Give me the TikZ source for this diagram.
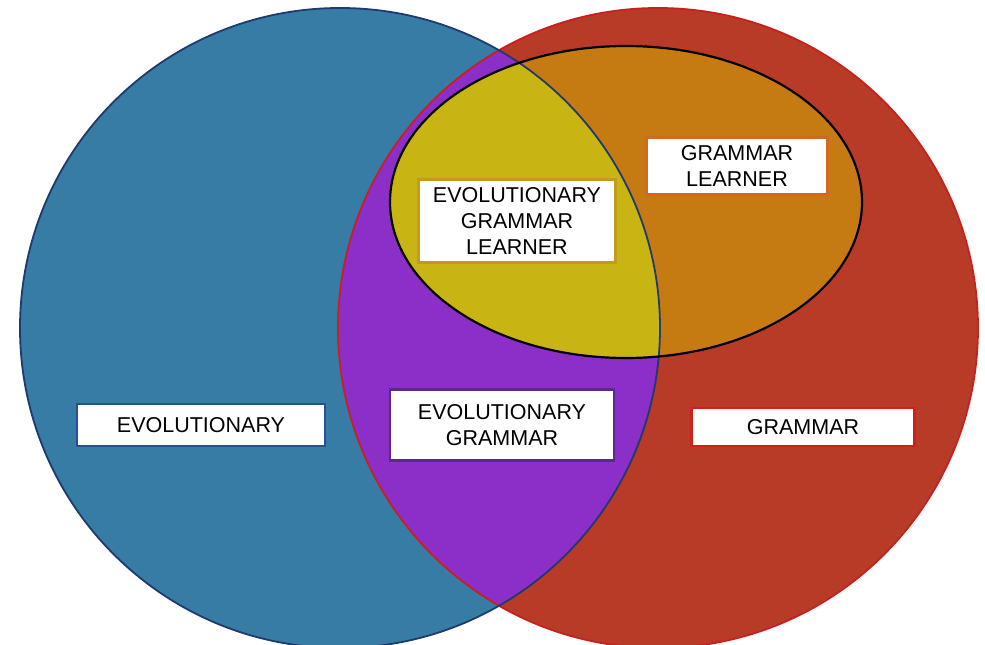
\documentclass[tikz,border=0pt]{standalone}
\usepackage{fontspec}
\setmainfont{Liberation Sans}
\definecolor{cblue}{HTML}{367CA4}
\definecolor{cred}{HTML}{B83B27}
\definecolor{cpurple}{HTML}{8C2FC8}
\definecolor{cyellow}{HTML}{C8B514}
\definecolor{corange}{HTML}{C67B12}
\definecolor{bnavy}{HTML}{1F3A6E}
\definecolor{bred}{HTML}{C8201E}
\definecolor{lblue}{HTML}{2A4E9A}
\definecolor{lpurple}{HTML}{5A2A8A}
\definecolor{lred}{HTML}{D0201A}
\definecolor{lorange}{HTML}{D06A20}
\definecolor{lgold}{HTML}{C49A1A}
\begin{document}
\begin{tikzpicture}[x=1pt,y=-1pt,
  label box/.style={draw, fill=white, line width=2.5pt, inner sep=0pt, align=center,
    font=\fontsize{21.5pt}{26pt}\selectfont, text=black}]
\useasboundingbox (0,0) rectangle (985,645);
\fill[white] (0,0) rectangle (985,645);
% base circles
\fill[cblue] (340,328) ellipse [x radius=320pt, y radius=320pt];
\fill[cred] (658,328) ellipse [x radius=320pt, y radius=320pt];
% intersection
\begin{scope}
  \clip (340,328) ellipse [x radius=320pt, y radius=320pt];
  \fill[cpurple] (658,328) ellipse [x radius=320pt, y radius=320pt];
\end{scope}
% learner ellipse
\fill[corange] (626,202) ellipse [x radius=236pt, y radius=156pt];
\begin{scope}
  \clip (340,328) ellipse [x radius=320pt, y radius=320pt];
  \fill[cyellow] (626,202) ellipse [x radius=236pt, y radius=156pt];
\end{scope}
% outlines
\draw[bred, line width=1.8pt] (658,328) ellipse [x radius=320pt, y radius=320pt];
\draw[bnavy, line width=1.8pt] (340,328) ellipse [x radius=320pt, y radius=320pt];
\draw[black, line width=2.2pt] (626,202) ellipse [x radius=236pt, y radius=156pt];
% labels
\node[label box, draw=lblue, minimum width=248pt, minimum height=42pt] (evo) at (201,425) {EVOLUTIONARY};
\node[label box, draw=lpurple, minimum width=224pt, minimum height=71pt] (evogram) at (502,425) {EVOLUTIONARY\\GRAMMAR};
\node[label box, draw=lred, minimum width=223pt, minimum height=38pt] (gram) at (803,427) {GRAMMAR};
\node[label box, draw=lorange, minimum width=181pt, minimum height=57pt] (gramlearn) at (737,166) {GRAMMAR\\LEARNER};
\node[label box, draw=lgold, minimum width=197pt, minimum height=83pt] (evogramlearn) at (517,221) {EVOLUTIONARY\\GRAMMAR\\LEARNER};
\end{tikzpicture}
\end{document}
